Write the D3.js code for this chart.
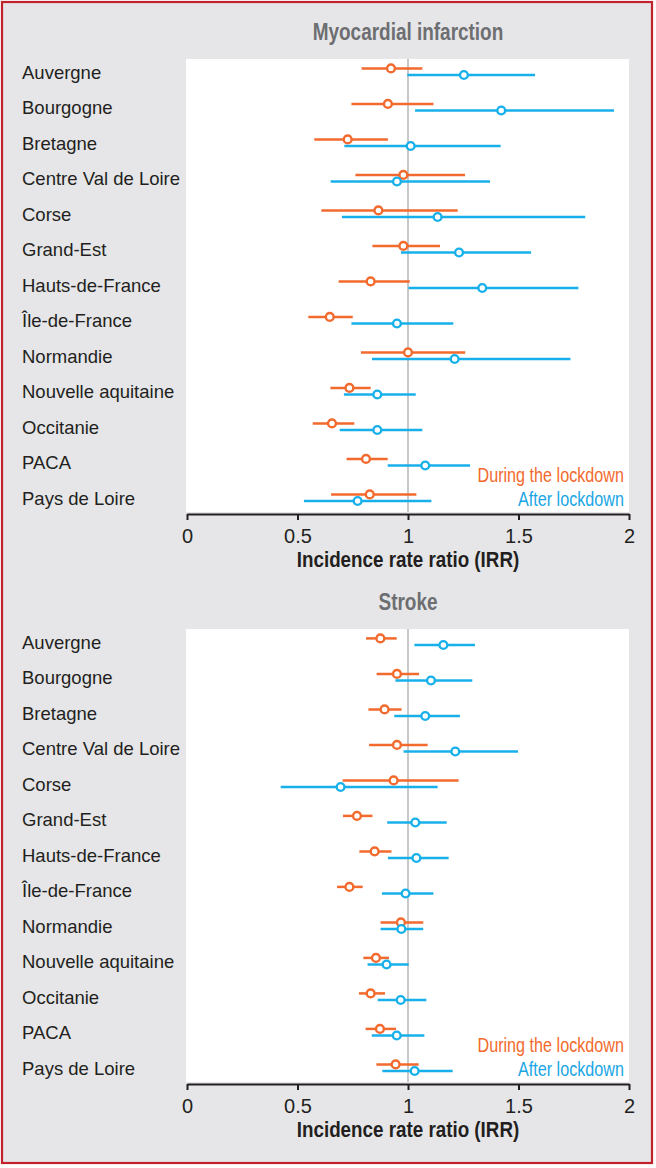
<!DOCTYPE html>
<html>
<head>
<meta charset="utf-8">
<script src="https://cdn.jsdelivr.net/npm/d3@7"></script>
<style>
  body { margin: 0; background: #fff; }
  text { font-family: "Liberation Sans", Arial, sans-serif; }
</style>
</head>
<body>
<svg id="chart"></svg>
<script>
// Regions (same order in both panels)
const regions = ["Auvergne", "Bourgogne", "Bretagne", "Centre Val de Loire", "Corse", "Grand-Est",
  "Hauts-de-France", "Île-de-France", "Normandie", "Nouvelle aquitaine", "Occitanie", "PACA", "Pays de Loire"];

// Myocardial infarction - during the lockdown
const miDuring = [0.923, 0.909, 0.727, 0.979, 0.866, 0.979, 0.831, 0.646, 1.0, 0.735, 0.656, 0.81, 0.827];
const miDuringLo = [0.79, 0.744, 0.576, 0.762, 0.608, 0.839, 0.686, 0.549, 0.787, 0.649, 0.569, 0.722, 0.652];
const miDuringHi = [1.065, 1.115, 0.909, 1.258, 1.225, 1.145, 1.008, 0.75, 1.259, 0.831, 0.757, 0.908, 1.038];
// Myocardial infarction - after lockdown
const miAfter = [1.253, 1.422, 1.012, 0.95, 1.134, 1.231, 1.336, 0.95, 1.211, 0.861, 0.861, 1.078, 0.772];
const miAfterLo = [0.997, 1.032, 0.712, 0.65, 0.701, 0.968, 1.002, 0.744, 0.837, 0.71, 0.691, 0.908, 0.529];
const miAfterHi = [1.575, 1.932, 1.419, 1.371, 1.802, 1.557, 1.771, 1.205, 1.735, 1.035, 1.065, 1.281, 1.106];

// Stroke - during the lockdown
const strokeDuring = [0.875, 0.95, 0.894, 0.95, 0.935, 0.769, 0.849, 0.735, 0.968, 0.855, 0.831, 0.873, 0.944];
const strokeDuringLo = [0.81, 0.858, 0.821, 0.824, 0.704, 0.706, 0.78, 0.679, 0.876, 0.798, 0.778, 0.808, 0.857];
const strokeDuringHi = [0.949, 1.05, 0.971, 1.089, 1.229, 0.839, 0.925, 0.795, 1.069, 0.914, 0.896, 0.946, 1.048];
// Stroke - after lockdown
const strokeAfter = [1.16, 1.104, 1.078, 1.214, 0.695, 1.033, 1.038, 0.989, 0.97, 0.903, 0.967, 0.949, 1.03];
const strokeAfterLo = [1.029, 0.943, 0.938, 0.98, 0.424, 0.906, 0.909, 0.882, 0.876, 0.817, 0.863, 0.836, 0.884];
const strokeAfterHi = [1.303, 1.291, 1.235, 1.498, 1.134, 1.175, 1.184, 1.115, 1.069, 1.003, 1.083, 1.074, 1.202];

const xTicks = [0, 0.5, 1, 1.5, 2];
const legendLabels = ["During the lockdown", "After lockdown"];
const axisTitle = "Incidence rate ratio (IRR)";

const width = 656;
const height = 1168;
const orange = "#f26a2d";
const blue = "#18b0ea";
const ink = "#231f20";

const panels = [
  { title: "Myocardial infarction", offset: 0,
    series: [
      { color: orange, pt: miDuring, lo: miDuringLo, hi: miDuringHi, dy: -3.3 },
      { color: blue, pt: miAfter, lo: miAfterLo, hi: miAfterHi, dy: 3.3 }] },
  { title: "Stroke", offset: 570,
    series: [
      { color: orange, pt: strokeDuring, lo: strokeDuringLo, hi: strokeDuringHi, dy: -3.3 },
      { color: blue, pt: strokeAfter, lo: strokeAfterLo, hi: strokeAfterHi, dy: 3.3 }] }
];

const svg = d3.select("#chart").attr("width", width).attr("height", height);

// background + red frame
svg.append("rect").attr("width", width).attr("height", height).attr("fill", "#fff");
svg.append("rect")
  .attr("x", 2).attr("y", 2).attr("width", 650).attr("height", 1161)
  .attr("fill", "#e6e6e8").attr("stroke", "#c0222b").attr("stroke-width", 2.2);

const x = d3.scaleLinear().domain([0, 2]).range([187, 629]);
const y = d3.scalePoint().domain(regions).range([71.7, 497.7]);

// condensed text helper (Helvetica Condensed look)
function condText(g, str, tx, ty, size, weight, fill, anchor, sx) {
  return g.append("text")
    .attr("transform", `translate(${tx},${ty}) scale(${sx},1)`)
    .attr("text-anchor", anchor)
    .style("font-size", size + "px")
    .style("font-weight", weight)
    .attr("fill", fill)
    .text(str);
}

panels.forEach(p => {
  const g = svg.append("g").attr("transform", `translate(0,${p.offset})`);

  condText(g, p.title, (x(0) + x(2)) / 2, 39.5, 24, "bold", "#6d6e71", "middle", 0.79);

  // plot area
  g.append("rect")
    .attr("x", x(0) - 1).attr("y", 59)
    .attr("width", x(2) - x(0) + 1).attr("height", 453)
    .attr("fill", "#fff");

  // reference line at IRR = 1
  g.append("line")
    .attr("x1", x(1)).attr("x2", x(1))
    .attr("y1", 59).attr("y2", 512)
    .attr("stroke", "#c8c8ca").attr("stroke-width", 2);

  // region labels
  g.append("g").selectAll("text")
    .data(regions)
    .join("text")
    .attr("x", 22)
    .attr("y", d => y(d) + 6.8)
    .style("font-size", "18.5px")
    .attr("fill", ink)
    .text(d => d);

  // intervals and points
  p.series.forEach(s => {
    const sg = g.append("g");
    sg.selectAll("line")
      .data(regions)
      .join("line")
      .attr("x1", (d, i) => x(s.lo[i]))
      .attr("x2", (d, i) => x(s.hi[i]))
      .attr("y1", d => y(d) + s.dy)
      .attr("y2", d => y(d) + s.dy)
      .attr("stroke", s.color)
      .attr("stroke-width", 2.5);
  });
  p.series.forEach(s => {
    g.append("g").selectAll("circle")
      .data(regions)
      .join("circle")
      .attr("cx", (d, i) => x(s.pt[i]))
      .attr("cy", d => y(d) + s.dy)
      .attr("r", 3.9)
      .attr("fill", "#fff")
      .attr("stroke", s.color)
      .attr("stroke-width", 2.4);
  });

  // legend
  condText(g, legendLabels[0], 624, 481.7, 19.5, "normal", orange, "end", 0.83);
  condText(g, legendLabels[1], 624, 506, 19.5, "normal", "#1aa6e4", "end", 0.83);

  // x axis
  const ax = g.append("g")
    .attr("transform", "translate(0,514)")
    .call(d3.axisBottom(x).tickValues(xTicks).tickSize(6).tickSizeOuter(0).tickPadding(9)
      .tickFormat(d => String(d)));
  ax.select(".domain").attr("stroke", ink).attr("stroke-width", 2);
  ax.selectAll(".tick line").attr("stroke", ink).attr("stroke-width", 2);
  ax.selectAll(".tick text")
    .attr("fill", ink)
    .style("font-size", "20px")
    .style("font-family", "'Liberation Sans', Arial, sans-serif");

  condText(g, axisTitle, x(1), 567.3, 21.5, "bold", ink, "middle", 0.875);
});
</script>
</body>
</html>
